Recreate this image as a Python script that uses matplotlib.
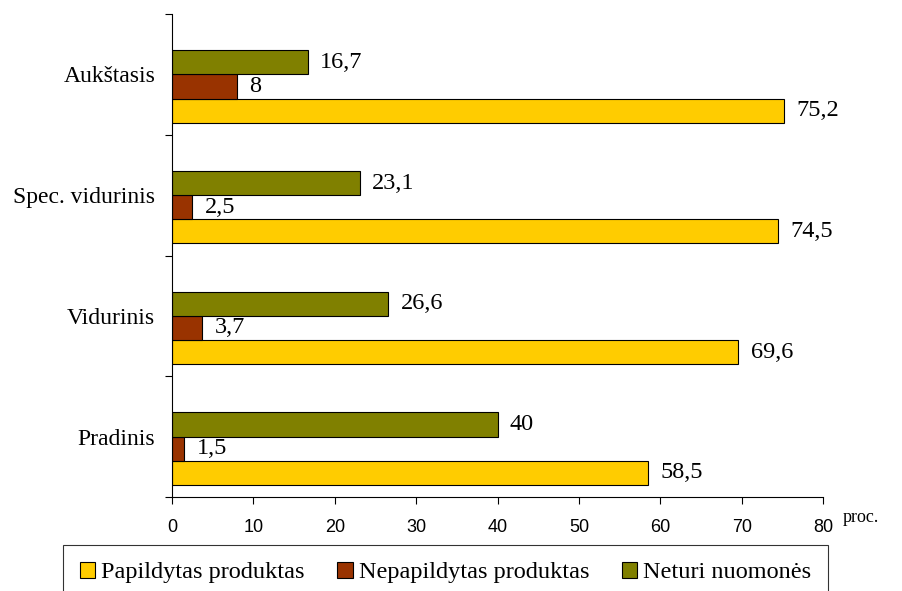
import matplotlib
matplotlib.use("Agg")
import matplotlib.pyplot as plt
from matplotlib.patches import Patch
from matplotlib.ticker import FixedLocator
import numpy as np

categories = ["Pradinis", "Vidurinis", "Spec. vidurinis", "Aukštasis"]
series_names = ["Papildytas produktas", "Nepapildytas produktas", "Neturi nuomonės"]
papildytas = [58.5, 69.6, 74.5, 75.2]
nepapildytas = [1.5, 3.7, 2.5, 8.0]
neturi = [40.0, 26.6, 23.1, 16.7]
x_ticks = [0, 10, 20, 30, 40, 50, 60, 70, 80]

colors = ["#FFCC00", "#993300", "#808000"]
offsets = [-0.3, -0.1, 0.1]
bar_h = 0.2

serif = "Liberation Serif"
sans = "Liberation Sans"

W, H = 902, 591
fig = plt.figure(figsize=(W / 100, H / 100), dpi=100)
ax = fig.add_axes([172 / W, 1 - 497 / H, (823 - 172) / W, (497 - 14) / H])

y = np.arange(len(categories))
for vals, col, off in zip([papildytas, nepapildytas, neturi], colors, offsets):
    ax.barh(y + off, vals, height=bar_h, color=col, edgecolor="black",
            linewidth=0.8)
    for yi, v in zip(y, vals):
        lab = f"{v:g}".replace(".", ",")
        ax.text(v + 1.5, yi + off, lab, va="center", ha="left",
                fontsize=17.5, family=serif)

ax.set_xlim(0, 80)
ax.set_ylim(-0.5, len(categories) - 0.5)
ax.set_xticks(x_ticks)
ax.set_xticklabels([str(t) for t in x_ticks], fontsize=13, family=sans)
ax.tick_params(axis="x", direction="out", length=5, width=0.8, pad=11)

ax.set_yticks(y)
ax.set_yticklabels(categories, fontsize=17, family=serif)
ax.tick_params(axis="y", which="major", length=0, pad=12)
ax.yaxis.set_minor_locator(FixedLocator(np.arange(-0.5, len(categories), 1.0)))
ax.tick_params(axis="y", which="minor", direction="out", length=5, width=0.8)

for s in ["top", "right"]:
    ax.spines[s].set_visible(False)
for s in ["left", "bottom"]:
    ax.spines[s].set_linewidth(0.8)

fig.text(843 / W, 1 - 517 / H, "proc.", fontsize=13, family=serif,
         ha="left", va="center")

handles = [Patch(facecolor=c, edgecolor="black", linewidth=0.8) for c in colors]
leg = fig.legend(handles, series_names, loc="upper left",
                 bbox_to_anchor=(63 / W, 1 - 545 / H), ncol=3,
                 prop={"family": serif, "size": 17.5}, frameon=True,
                 fancybox=False, edgecolor="black", handlelength=0.62,
                 handleheight=0.62, handletextpad=0.25, columnspacing=1.35,
                 borderpad=0.7, borderaxespad=0)
leg.get_frame().set_linewidth(0.8)

fig.savefig("out.png", dpi=100)
